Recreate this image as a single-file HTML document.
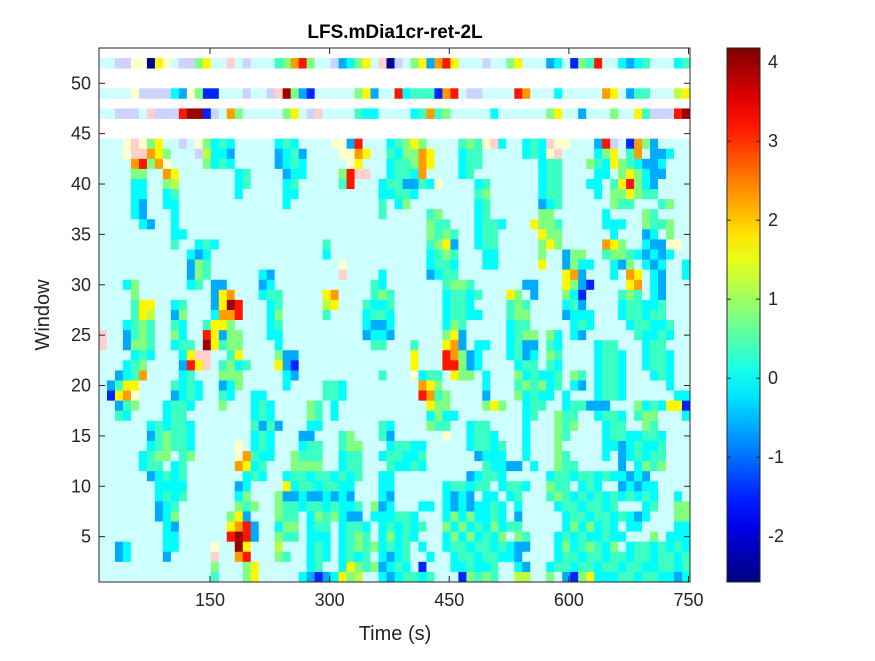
<!DOCTYPE html>
<html><head><meta charset="utf-8"><style>
body{margin:0;background:#fff;}
svg text{font-family:"Liberation Sans",sans-serif;fill:#262626;}
</style></head><body>
<svg id="chart" width="875" height="656" viewBox="0 0 875 656" xmlns="http://www.w3.org/2000/svg">
<rect width="875" height="656" fill="#fff"/>
<g id="cells"></g>
<g id="axes"></g>
<text x="395" y="38" text-anchor="middle" font-size="19" font-weight="bold" style="fill:#000">LFS.mDia1cr-ret-2L</text>
<text x="395" y="640" text-anchor="middle" font-size="20">Time (s)</text>
<text transform="translate(49,315) rotate(-90)" text-anchor="middle" font-size="20">Window</text>
<g id="cbar"></g>
</svg>
<script>
// value codes
const codeKeys = ['N','B','S','C','T','G','L','Y','O','R','K','.','v','y','p'];
const codeVals = [-2.4,-1.5,-0.6,-0.05,0.35,0.8,1.2,1.7,2.3,3.2,4.0,0,-1.5,1.6,3.2];
const fadedCodes = ['.','v','y','p'];
const xTicks = [150,300,450,600,750];
const yTicks = [5,10,15,20,25,30,35,40,45,50];
const cTicks = [-2,-1,0,1,2,3,4];
const stripeRows = [52,49,47];
const stripeData = [
"..vvyyNYy.vvGY..p.v...TGORG..vSCGY.pNv.GYSORY...v..GY...SC.BGTR..CSCT...CT",
"....yvvvvCSyGBB...v..vpKGSB.....GYS..RCTTTBOR.vv....RO...C.....OY.STT...LY",
"..vvv.pvvvRKKBv.OG.....GY.vp....TCC....CTOTG.....C......GY..S...G..YTvvvRK"];
const mainRows = [
"3:ypyGY 10:v 12:yGCTC 22:CTC 29:yySR 36:CTGYG 45:TGTypC 53:CTCpyy 62:SRv 66:BOGS",
"3:yppOYG 12:v 13:LCCS 22:SCTS 30:yyOY 36:TCGGOY 45:CTT 53:CTCyp 62:CGY 66:TO 69:SSC",
"4:ORGOy 13:GCTC 22:SCTC 31:yY 36:CTTGOY 45:CTT 55:CTT 61:GTCYGT 67:CSSC",
"4:GG 8:OY 17:CT 23:SCC 30:GRpp 36:CTTCO 45:CT 55:CTT 62:CC 65:GYG 68:CSS",
"4:CC 8:GL 17:CT 23:CT 30:TR 35:CTTSSTCy 47:CT 55:CTT 61:CC 64:TYRGCS",
"4:CC 8:CT 17:C 23:CC 35:CCTTC 47:TG 55:CTT 62:C 64:GGYGTT",
"4:CS 8:CC 23:C 35:T 37:CG 47:CT 55:SCT 64:GTT 70:TG",
"4:CS 9:C 35:T 41:TG 47:CT 55:GG 63:C 68:GT",
"5:CS 9:C 41:GTT 47:CTTC 54:YGGT 63:CCC 68:GTTG",
"9:CC 41:GTGT 47:CTT 55:YGG 64:C 68:SC 71:G",
"9:T 12:CTC 28:T 41:TGYS 47:CTT 55:GYG 63:OYG 68:CSS 71:yy",
"11:CSC 28:C 41:CTGT 48:CC 55:G 58:SGG 63:TGGT 67:CSCSC",
"11:SGT 30:y 41:CTTC 48:CC 55:Y 58:SGCC 64:CS 66:G 68:CSC 73:C",
"11:SGT 20:CS 30:p 35:C 41:SCTT 58:YO 60:S 64:C 66:OY 69:CS 73:C",
"3:CG 11:CT 14:SS 20:SC 34:TC 43:TGGT 53:SS 58:YG 60:SB 66:YO 69:CS",
"4:G 14:SYO 20:CTT 28:YO 34:TGT 43:CTTCT 51:YG 54:S 58:GCB 65:TGT 69:CS",
"4:TYY 9:CT 14:SYKR 21:CT 28:LY 33:TCCT 43:CTTC 51:TGT 58:CTS 65:CTTCCT",
"4:TYL 9:SG 14:COOR 21:CG 28:T 33:CTTC 43:CTTCC 51:TGG 58:SCCC 65:CTTCTT",
"3:CTGT 9:TC 13:TYYG 21:CT 33:CSSC 43:CGT 51:CTT 59:CTC 66:CTTCCT",
"0:p 3:STGT 9:GC 13:RY 15:SGG 21:CC 33:SCCS 43:GYS 51:CTGG 56:GC 59:CS 67:TCCTC",
"0:p 3:SGGT 9:CTT 13:KY 15:TGG 22:C 34:TT 39:T 43:YOS 47:CC 51:CTSS 56:TC 62:CTT 68:CTT",
"4:CTC 10:CY 12:pp 16:TY 22:GSS 39:Y 43:ROGS 47:C 51:CTSC 56:GT 62:CTTC 68:CTTC",
"3:CTG 10:SRYp 15:TGCT 22:YSB 39:Y 43:RRGS 47:C 52:CTT 56:TC 62:CTTC 68:CTTC",
"2:SCTO 10:CT 15:GGG 23:CS 35:T 39:y 40:CTT 44:YGG 48:C 52:GCTC 56:CT 59:GT 62:CTTC 69:CTC",
"1:STYY 9:TCTC 15:SCG 23:C 28:TT 30:C 40:OYG 48:C 52:TGTG 56:CT 59:CS 62:CTTC 71:C",
"1:BYOy 9:SCTC 15:TC 19:CC 28:TT 30:C 40:ROTG 48:S 52:GCTCC 58:C 62:CTTC 72:CC",
"2:STG 8:CTTC 15:G 19:CTC 26:GT 29:C 41:YGG 48:GYG 53:CTT 58:CTTSSS 67:GCTC 71:YY 73:B",
"2:TC 8:CTT 19:CTC 26:GT 29:C 41:CGCC 53:CT 57:GTT 62:CTTC 67:TGG 73:C",
"6:CTCTTC 19:TSTS 26:CC 35:TC 41:GTT 46:CTT 53:C 57:GTG 63:CTT 68:GT",
"6:STGTTC 19:CTC 25:SS 30:TG 35:TS 43:y 46:CTTC 53:C 57:GT 63:CTTCCTTC",
"6:CTGTTC 17:y 19:CTC 25:CTT 30:TGG 36:CTTCC 46:CTTCT 53:C 57:G 63:CC 65:SCTCCT",
"5:CTGG 10:TG 17:yO 19:TCC 24:GTTT 30:CTT 35:CTTCCT 47:SCCC 53:C 57:GT 63:C 65:SCTCTT",
"5:CTT 9:CT 17:OY 19:CT 24:GGGG 30:CTT 36:TCCTC 48:TCCSS 54:C 57:GTT 65:S 67:CGTG",
"6:SCTCT 18:CTC 23:CTTCTTCT 31:CT 35:CC 46:SCTTC 56:CTTCTTCTC 65:CSCS",
"7:CCCC 17:SC 23:YCTTCTTCC 35:CC 43:CTTCTT 50:CTTC 56:GTT 60:CTC 65:SCSCC",
"7:CTCT 17:CG 22:GSSCSSCSCS 35:CS 43:CSCS 48:CC 51:CT 56:TG 58:TCTCTCTCTCTC 72:C",
"7:SCT 17:GTG 22:GTTCTTCTCCT 34:GSC 40:CC 43:CSCSC 48:CTC 52:C 57:CTTCTTCT 68:CT 72:GG",
"7:SCG 16:GYS 22:GTT 26:CGTG 30:CSS 34:C 35:CC 36:CTTC 43:CGCGC 48:CTC 52:S 58:CTTCTTCT 66:CSC 72:GG",
"8:CS 16:YOR 19:S 22:CGG 26:CTT 30:CTTC 35:CTCTCT 43:GCGCTCG 50:CTT 58:CGCGCTC 66:CC 72:CC",
"8:CC 16:RKR 19:S 22:GTT 26:CCC 30:CTGT 35:CGCTC 43:CGCGCTCG 52:GT 57:CTCTCCTCC 69:G 71:CCC",
"2:SC 8:CC 14:y 17:KY 22:L 26:CTC 30:CTGTG 35:CTCT 40:C 43:CTTCTTCTCT 52:SS 57:CGCTGTCG 66:CTTCT 71:CTC",
"2:SC 8:S 14:p 17:OR 22:GT 26:CTC 30:CTCT 35:CSCT 41:C 44:CTTCTTC 51:CS 57:CTTCTTCTTCTT 69:CTTCT",
"14:G 18:GY 26:CT 30:CYGT 34:G 35:SCTC 40:B 44:CCTCCT 52:CS 56:CTTCTTCTTCTTC 69:CTTCT",
"14:T 18:GY 25:CSBSC 30:YGL 35:CSCTTCT 45:B 46:GTGT 52:LL 56:G 58:SB 60:GY 62:CCCTTCTTC 71:CSC"];
const nCols = 74;

const NS='http://www.w3.org/2000/svg';
const PL=99, PR=690, PT=48, PB=582;
const tMin=10.8, tMax=751.9, wMin=0.5, wMax=53.5;
const xS=t=>PL+(t-tMin)/(tMax-tMin)*(PR-PL);
const yS=w=>PB-(w-wMin)/(wMax-wMin)*(PB-PT);
const cMin=-2.58, cMax=4.18;
function jet(v){let t=(v-cMin)/(cMax-cMin);t=Math.max(0,Math.min(1,t));
 const f=x=>Math.max(0,Math.min(1,1.5-Math.abs(x)));
 return [f(4*t-3),f(4*t-2),f(4*t-1)];}
function color(code){const i=codeKeys.indexOf(code);const v=codeVals[i];let c=jet(v);
 if(fadedCodes.includes(code)) c=c.map(x=>x*0.2+0.8);
 return 'rgb('+c.map(x=>Math.round(x*255)).join(',')+')';}
function decodeRuns(s){const a=new Array(nCols).fill('.');
 s.split(' ').forEach(seg=>{const [st,codes]=seg.split(':');const s0=+st;
  for(let k=0;k<codes.length;k++) if(s0+k<nCols) a[s0+k]=codes[k];});return a;}
const cellsG=document.getElementById('cells');
const dt=(tMax-tMin)/nCols;
function drawRow(w,arr){for(let c=0;c<nCols;c++){const code=arr[c]||'.';
 const r=document.createElementNS(NS,'rect');
 const x0=xS(tMin+c*dt), x1=xS(tMin+(c+1)*dt);
 r.setAttribute('x',x0.toFixed(2));r.setAttribute('y',yS(w+0.5).toFixed(2));
 r.setAttribute('width',(x1-x0+0.4).toFixed(2));r.setAttribute('height',(yS(w-0.5)-yS(w+0.5)+0.4).toFixed(2));
 r.setAttribute('fill',color(code));
 
 
 cellsG.appendChild(r);}}
mainRows.forEach((s,i)=>drawRow(44-i,decodeRuns(s)));
stripeRows.forEach((w,i)=>{const a=stripeData[i].split('');while(a.length<nCols)a.push('.');drawRow(w,a.slice(0,nCols));});

const ax=document.getElementById('axes');
function el(tag,attrs,text){const e=document.createElementNS(NS,tag);for(const k in attrs)e.setAttribute(k,attrs[k]);if(text!==undefined)e.textContent=text;return e;}
const box=el('rect',{x:PL,y:PT,width:PR-PL,height:PB-PT,fill:'none',stroke:'#262626','stroke-width':1});


ax.appendChild(box);
xTicks.forEach(t=>{const x=xS(t);
 ax.appendChild(el('line',{x1:x,x2:x,y1:PB,y2:PB-6,stroke:'#262626'}));
 ax.appendChild(el('line',{x1:x,x2:x,y1:PT,y2:PT+6,stroke:'#262626'}));
 const lb=el('text',{x:x,y:PB+24,'text-anchor':'middle','font-size':18},String(t));
 
 
 ax.appendChild(lb);});
yTicks.forEach(w=>{const y=yS(w);
 ax.appendChild(el('line',{x1:PL,x2:PL+6,y1:y,y2:y,stroke:'#262626'}));
 ax.appendChild(el('line',{x1:PR,x2:PR-6,y1:y,y2:y,stroke:'#262626'}));
 const lb=el('text',{x:PL-8,y:y+6,'text-anchor':'end','font-size':18},String(w));
 
 
 ax.appendChild(lb);});

// colorbar
const cb=document.getElementById('cbar');
const CL=727, CR=760, CT=48, CB=582;
const cy=v=>CB-(v-cMin)/(cMax-cMin)*(CB-CT);
const grad=el('linearGradient',{id:'jetg',x1:0,y1:1,x2:0,y2:0});
for(let i=0;i<=20;i++){const v=cMin+(cMax-cMin)*i/20;const c=jet(v);
 grad.appendChild(el('stop',{offset:(i/20),'stop-color':'rgb('+c.map(x=>Math.round(x*255)).join(',')+')'}));}
const defs=el('defs',{});defs.appendChild(grad);cb.appendChild(defs);
const cbr=el('rect',{x:CL,y:CT,width:CR-CL,height:CB-CT,fill:'url(#jetg)',stroke:'#262626'});


cb.appendChild(cbr);
cTicks.forEach(v=>{const y=cy(v);
 cb.appendChild(el('line',{x1:CL,x2:CL+4,y1:y,y2:y,stroke:'#262626'}));
 cb.appendChild(el('line',{x1:CR,x2:CR-4,y1:y,y2:y,stroke:'#262626'}));
 const lb=el('text',{x:CR+8,y:y+6,'font-size':18},String(v));
 
 
 cb.appendChild(lb);});
</script>
</body></html>
